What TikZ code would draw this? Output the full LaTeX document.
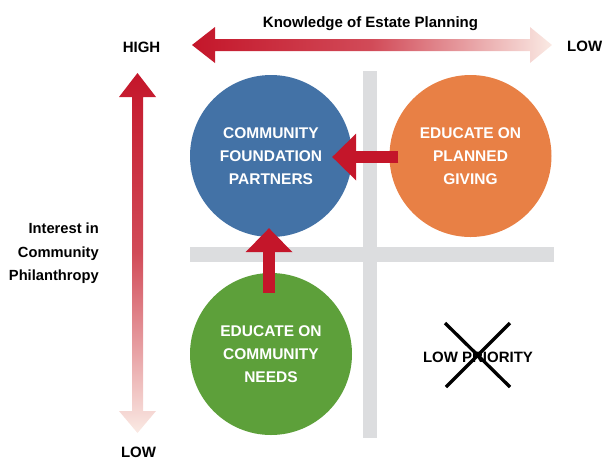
\documentclass[tikz,border=0pt]{standalone}
\usepackage{fontspec}
\setmainfont{Liberation Sans}
\usetikzlibrary{arrows.meta}
\definecolor{cblue}{RGB}{67,114,166}
\definecolor{corange}{RGB}{232,128,69}
\definecolor{cgreen}{RGB}{93,160,58}
\definecolor{cred}{RGB}{196,22,42}
\definecolor{cpale}{RGB}{250,234,228}
\definecolor{cgray}{RGB}{220,221,223}
\begin{document}
\begin{tikzpicture}[x=1pt,y=-1pt,
  lbl/.style={font=\bfseries\fontsize{15}{18}\selectfont, text=black, inner sep=0pt},
  circ/.style={circle, minimum size=162pt, inner sep=0pt, text=white, align=center,
    font=\bfseries\fontsize{15.5}{23}\selectfont},
  blockarrow/.style={cred, line width=11.5pt,
    -{Triangle[width=47pt,length=24pt,line width=0pt]}},
  crossline/.style={black, line width=3.3pt}]
\useasboundingbox (0,0) rectangle (603,459);

% gray quadrant bars
\fill[cgray] (363,71) rectangle (377,438);
\fill[cgray] (190,247) rectangle (554,262);

% horizontal gradient axis arrow
\shade[left color=cred, right color=cpale, middle color=cred!75!cpale]
  (192,45) -- (215,27) -- (215,39) -- (530,39) -- (530,27) -- (552,45)
  -- (530,63) -- (530,51) -- (215,51) -- (215,63) -- cycle;

% vertical gradient axis arrow
\shade[top color=cred, bottom color=cpale, middle color=cred!75!cpale]
  (137.5,73) -- (156,97) -- (143,97) -- (143,411) -- (156,411) -- (137.5,433)
  -- (119,411) -- (132,411) -- (132,97) -- (119,97) -- cycle;

% labels
\node[lbl, anchor=base] (title) at (370.5,27) {Knowledge of Estate Planning};
\node[lbl, anchor=base] (high) at (141.5,52) {HIGH};
\node[lbl, anchor=base west] (lowx) at (567,51) {LOW};
\node[lbl, anchor=base] (lowy) at (138.5,457) {LOW};
\node[lbl, anchor=east, align=right, font=\bfseries\fontsize{14.7}{23.5}\selectfont]
  (interest) at (99,253.5) {Interest in\\Community\\Philanthropy};

% circles
\node[circ, fill=cblue] (partners) at (271,156) {COMMUNITY\\FOUNDATION\\PARTNERS};
\node[circ, fill=corange] (planned) at (470.5,156) {EDUCATE ON\\PLANNED\\GIVING};
\node[circ, fill=cgreen] (needs) at (271,354) {EDUCATE ON\\COMMUNITY\\NEEDS};

% block arrows
\draw[blockarrow] ([xshift=9pt,yshift=-1pt]planned.west) -- ([xshift=-20pt,yshift=-1pt]partners.east);
\draw[blockarrow] ([xshift=-2pt,yshift=-20pt]needs.north) -- ([xshift=-2pt,yshift=9pt]partners.south);

% low priority
\node[lbl, anchor=base] (lowprio) at (478,362) {LOW PRIORITY};
\draw[crossline] (445,323) -- (510,387);
\draw[crossline] (510,323) -- (446,387);
\end{tikzpicture}
\end{document}
